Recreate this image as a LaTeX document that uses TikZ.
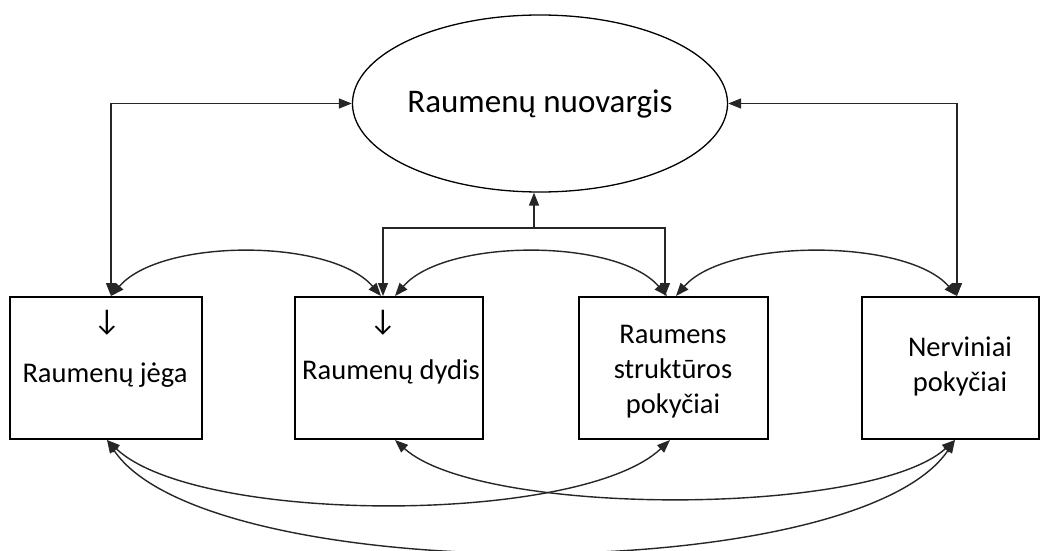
\documentclass[tikz,border=0pt]{standalone}
\usepackage{fontspec}
\setmainfont{Carlito}
\usetikzlibrary{arrows.meta,shapes.geometric,calc}
\begin{document}
\begin{tikzpicture}[x=1pt,y=-1pt,
  >={Triangle[length=13pt,width=10pt]},
  conn/.style={line width=1.4pt,draw={black!85}},
  boxnode/.style={draw,line width=2pt,rectangle,minimum width=#1,minimum height=142pt,inner sep=0pt},
  lbl/.style={font=\fontsize{28.5}{35}\selectfont,align=center,inner sep=0pt},
  darr/.style={font=\fontsize{30}{35}\selectfont,inner sep=0pt}
]
\useasboundingbox (0,0) rectangle (1042,551);
\fill[white] (0,0) rectangle (1042,551);

% ellipse
\node[ellipse,draw,line width=1.3pt,minimum width=362pt,minimum height=177pt,inner sep=0pt,
      font=\fontsize{33}{40}\selectfont] (e) at (540,103.5) {Raumenų nuovargis};

% boxes
\node[boxnode=192pt] (b1) at (106,368) {};
\node[boxnode=188pt] (b2) at (389,368) {};
\node[boxnode=189pt] (b3) at (673.5,368) {};
\node[boxnode=177pt] (b4) at (950.5,368) {};

% texts in boxes
\node[darr] (a1) at (107,323) {↓};
\node[lbl,anchor=base] (t1) at (105,382) {Raumenų jėga};
\node[darr] (a2) at (383,323) {↓};
\node[lbl,anchor=base] (t2) at (391,379) {Raumenų dydis};
\node[lbl] (t3) at (673,372) {Raumens\\struktūros\\pokyčiai};
\node[lbl] (t4) at (960,366) {Nerviniai\\pokyčiai};

% anchor coordinates on box tops
\coordinate (b1t) at (b1.north -| 111,0);
\coordinate (b2tv) at (b2.north -| 383,0);
\coordinate (b2ta) at (b2.north -| 381,0);
\coordinate (b2tb) at (b2.north -| 395,0);
\coordinate (b3tv) at (b3.north -| 665,0);
\coordinate (b3ta) at (b3.north -| 667,0);
\coordinate (b3tb) at (b3.north -| 676,0);
\coordinate (b4t) at (b4.north -| 957,0);
% box bottoms
\coordinate (b1b) at (b1.south -| 107,0);
\coordinate (b2b) at (b2.south -| 395,0);
\coordinate (b3b) at (b3.south -| 670,0);
\coordinate (b4b) at (b4.south -| 955,0);
% middle junction
\coordinate (hm) at (534,228);

% side connectors
\draw[conn,<->] (e.west) -| (b1t);
\draw[conn,<->] (e.east) -| (b4t);

% middle fork
\draw[conn,<->] (b2tv) |- (hm) -| (b3tv);
\draw[conn,->] (hm) -- (hm |- e.south);

% top curves
\draw[conn,<->] (b1t) .. controls ($(b1t)+(50,-58)$) and ($(b2ta)+(-50,-58)$) .. (b2ta);
\draw[conn,<->] (b2tb) .. controls ($(b2tb)+(50,-58)$) and ($(b3ta)+(-50,-58)$) .. (b3ta);
\draw[conn,<->] (b3tb) .. controls ($(b3tb)+(50,-58)$) and ($(b4t)+(-50,-58)$) .. (b4t);

% bottom curves
\draw[conn,<->] (b1b) .. controls ($(b1b)+(90,85)$) and ($(b3b)+(-90,85)$) .. (b3b);
\draw[conn,<->] (b2b) .. controls ($(b2b)+(85,77)$) and ($(b4b)+(-85,77)$) .. (b4b);
\draw[conn,<->] (b1b) .. controls ($(b1b)+(100,148)$) and ($(b4b)+(-100,148)$) .. (b4b);
\end{tikzpicture}
\end{document}
